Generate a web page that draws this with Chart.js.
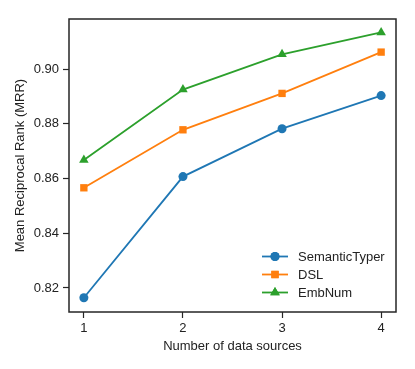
<!DOCTYPE html>
<html>
<head>
<meta charset="utf-8">
<script src="https://cdn.jsdelivr.net/npm/chart.js@4/dist/chart.umd.min.js"></script>
<style>
html,body{margin:0;padding:0;background:#fff;}
#wrap{width:415px;height:369px;}
</style>
</head>
<body>
<div id="wrap"><canvas id="c" width="415" height="369"></canvas></div>
<script>
const sources = [1, 2, 3, 4];
const semanticTyper = [0.8164, 0.8607, 0.8782, 0.8903];
const dsl = [0.8566, 0.8778, 0.8911, 0.9062];
const embNum = [0.8668, 0.8925, 0.9054, 0.9134];
const yTicks = [0.82, 0.84, 0.86, 0.88, 0.90];
const xTicks = [1, 2, 3, 4];
const seriesNames = ['SemanticTyper', 'DSL', 'EmbNum'];

const FONT = 'Liberation Sans, Arial, sans-serif';
const AXIS = '#262626';

function pts(vals){ return sources.map((x,i)=>({x:x, y:vals[i]})); }

const styles = [
  {color:'#1f77b4', shape:'circle', r:4.5},
  {color:'#ff7f0e', shape:'rect', r:5.2},
  {color:'#2ca02c', shape:'triangle', r:5.5}
];
const allVals = [semanticTyper, dsl, embNum];

const frame = {
  id:'frame',
  afterDraw(chart){
    const a = chart.chartArea, ctx = chart.ctx;
    ctx.save();
    ctx.strokeStyle = AXIS; ctx.lineWidth = 1.5;
    ctx.strokeRect(a.left, a.top, a.right-a.left, a.bottom-a.top);
    // legend
    const lx0 = 262, lx1 = 288, tx = 298;
    const rows = [256.5, 274.5, 292.5];
    ctx.font = '13px ' + FONT;
    ctx.textBaseline = 'middle';
    seriesNames.forEach((n,i)=>{
      const st = styles[i], y = rows[i];
      ctx.strokeStyle = st.color; ctx.lineWidth = 1.8;
      ctx.beginPath(); ctx.moveTo(lx0,y); ctx.lineTo(lx1,y); ctx.stroke();
      ctx.fillStyle = st.color;
      Chart.helpers.drawPoint(ctx, {pointStyle: st.shape, radius: st.r, borderWidth: 0}, (lx0+lx1)/2, y);
      ctx.fill();
      ctx.fillStyle = '#222';
      ctx.fillText(n, tx, y+0.5);
    });
    ctx.restore();
  }
};

new Chart(document.getElementById('c'), {
  type:'line',
  data:{
    datasets: seriesNames.map((n,i)=>({
      label:n,
      data:pts(allVals[i]),
      borderColor:styles[i].color,
      backgroundColor:styles[i].color,
      pointBackgroundColor:styles[i].color,
      pointBorderColor:styles[i].color,
      pointBorderWidth:0,
      pointStyle:styles[i].shape,
      pointRadius:styles[i].r,
      borderWidth:1.8,
      tension:0
    }))
  },
  options:{
    responsive:false,
    animation:false,
    devicePixelRatio:1,
    layout:{padding:{left:0, right:19, top:19, bottom:0}},
    plugins:{legend:{display:false}, tooltip:{enabled:false}},
    scales:{
      x:{
        type:'linear', min:0.85, max:4.15,
        afterBuildTicks(s){ s.ticks = xTicks.map(v=>({value:v})); },
        afterFit(s){ s.height = 57; },
        grid:{drawOnChartArea:false, drawTicks:true, tickLength:6, color:AXIS, tickWidth:1.2},
        border:{display:false},
        ticks:{color:'#222', font:{family:FONT, size:13}, padding:3, maxRotation:0,
               callback:(v)=>String(v)},
        title:{display:true, text:'Number of data sources', color:'#222',
               font:{family:FONT, size:13}, padding:{top:0, bottom:15}}
      },
      y:{
        type:'linear', min:0.8112, max:0.9183,
        afterBuildTicks(s){ s.ticks = yTicks.map(v=>({value:v})); },
        afterFit(s){ s.width = 69; },
        grid:{drawOnChartArea:false, drawTicks:true, tickLength:6, color:AXIS, tickWidth:1.2},
        border:{display:false},
        ticks:{color:'#222', font:{family:FONT, size:13}, padding:4,
               callback:(v)=>v.toFixed(2)},
        title:{display:true, text:'Mean Reciprocal Rank (MRR)', color:'#222',
               font:{family:FONT, size:13}, padding:{top:13, bottom:0}}
      }
    }
  },
  plugins:[frame]
});
</script>
</body>
</html>
